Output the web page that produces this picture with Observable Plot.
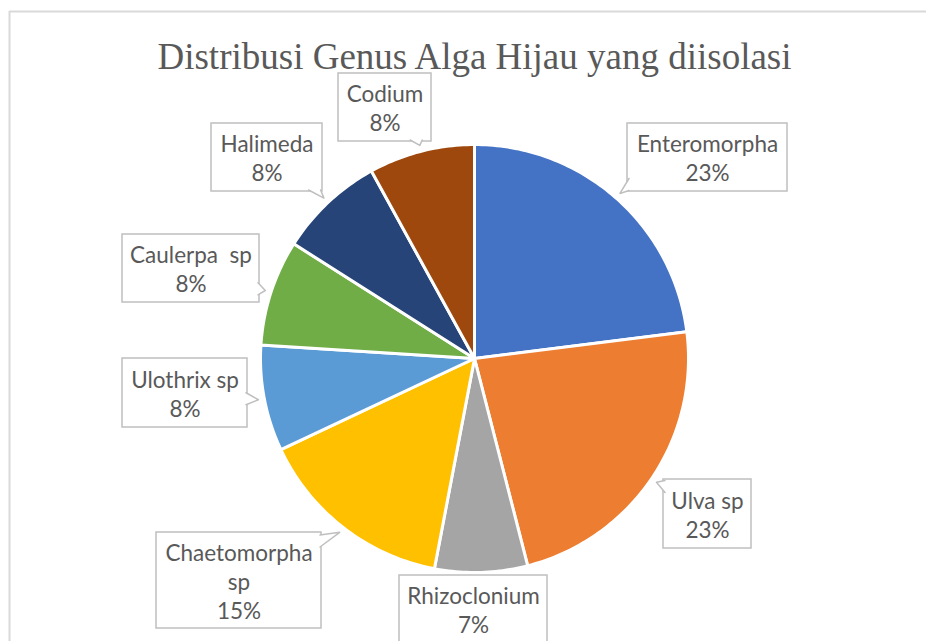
<!DOCTYPE html>
<html><head><meta charset="utf-8">
<script src="https://cdn.jsdelivr.net/npm/d3@7"></script>
<script src="https://cdn.jsdelivr.net/npm/@observablehq/plot@0.6"></script>
<style>body{margin:0;background:#fff} svg text{white-space:pre}</style>
</head><body><div id="chart"></div>
<script>
// ---- data ----
const title = "Distribusi Genus Alga Hijau yang diisolasi";
const genus = ["Enteromorpha","Ulva sp","Rhizoclonium","Chaetomorpha sp","Ulothrix sp","Caulerpa  sp","Halimeda","Codium"];
const percent = [23,23,7,15,8,8,8,8];
const colors = ["#4472C4","#ED7D31","#A5A5A5","#FFC000","#5B9BD5","#70AD47","#264478","#9E480E"];

// ---- layout (label callout boxes, pixel units) ----
const W = 926, H = 641, CX = 474, CY = 358, R = 214;
const boxes = [
  {cx:707, cy:157, w:160, h:68},
  {cx:707, cy:513.5, w:88, h:69},
  {cx:473, cy:609, w:148, h:68},
  {cx:238.5, cy:580, w:165, h:96, wrap:true},
  {cx:184.5, cy:392.5, w:125, h:69},
  {cx:190.5, cy:268, w:137, h:68},
  {cx:266.5, cy:157, w:111, h:68},
  {cx:384.5, cy:107, w:93, h:68}
];

const data = genus.map((g,i)=>({name:g, value:percent[i], color:colors[i]}));
const arcs = d3.pie().sort(null).value(d=>d.value)(data);

const pt = (a, r) => [CX + r*Math.sin(a), CY - r*Math.cos(a)];

// slice polygons
const slicePts = [];
arcs.forEach(a=>{
  const n = Math.max(2, Math.ceil((a.endAngle-a.startAngle)/(Math.PI/180)));
  slicePts.push({name:a.data.name, x:CX, y:CY});
  for(let k=0;k<=n;k++){
    const ang = a.startAngle + (a.endAngle-a.startAngle)*k/n;
    const [x,y] = pt(ang, R);
    slicePts.push({name:a.data.name, x, y});
  }
  slicePts.push({name:a.data.name, x:CX, y:CY});
});

// labels & pointers
const labels = [], rects = [], pointers = [];
arcs.forEach((a,i)=>{
  const b = boxes[i];
  const nm = b.wrap ? a.data.name.replace(" ", "\n") : a.data.name;
  labels.push({x:b.cx, y:b.cy, text: nm + "\n" + a.data.value + "%"});
  const x1=b.cx-b.w/2, x2=b.cx+b.w/2, y1=b.cy-b.h/2, y2=b.cy+b.h/2;
  rects.push({x1,x2,y1,y2});
  const mid = (a.startAngle+a.endAngle)/2;
  const [tx,ty] = pt(mid, R+6);
  if (tx>=x1-2 && tx<=x2+2 && ty>=y1-2 && ty<=y2+2) return; // box touches the pie: no pointer
  const dx = b.cx-tx, dy = b.cy-ty, e = 1e-6;
  const cands = [];
  if (Math.abs(dx)>e){ for (const ex of [x1,x2]){ const t=(ex-tx)/dx; const yy=ty+t*dy; if(t>=-e&&t<=1+e&&yy>=y1-e&&yy<=y2+e) cands.push({t,x:ex,y:yy,side:"v"});}}
  if (Math.abs(dy)>e){ for (const ey of [y1,y2]){ const t=(ey-ty)/dy; const xx=tx+t*dx; if(t>=-e&&t<=1+e&&xx>=x1-e&&xx<=x2+e) cands.push({t,x:xx,y:ey,side:"h"});}}
  if (!cands.length) return;
  cands.sort((p,q)=>p.t-q.t);
  const best = cands[0];
  let b1,b2;
  if (best.side==="h"){
    const xx = Math.min(Math.max(best.x, x1+7), x2-7);
    const inset = best.y===y1 ? 1.5 : -1.5;
    b1=[xx-6,best.y+inset]; b2=[xx+6,best.y+inset];
  } else {
    const yy = Math.min(Math.max(best.y, y1+7), y2-7);
    const inset = best.x===x1 ? 1.5 : -1.5;
    b1=[best.x+inset,yy-6]; b2=[best.x+inset,yy+6];
  }
  pointers.push({id:i,x:b1[0],y:b1[1]},{id:i,x:tx,y:ty},{id:i,x:b2[0],y:b2[1]});
});

const grey = "#BFBFBF", txt = "#595959";
const chart = Plot.plot({
  width: W, height: H, margin: 0,
  x: {domain:[0,W], range:[0,W], axis:null},
  y: {domain:[0,H], range:[0,H], axis:null},
  color: {domain: genus, range: colors},
  style: {background:"#fff"},
  marks: [
    Plot.ruleY([11], {x1:9, x2:W, stroke:"#D9D9D9", strokeWidth:2}),
    Plot.ruleX([9], {y1:11, y2:H, stroke:"#D9D9D9", strokeWidth:2}),
    Plot.line(slicePts, {x:"x", y:"y", z:"name", fill:"name", stroke:"#fff", strokeWidth:3, strokeLinejoin:"round", curve:"linear"}),
    Plot.rect(rects, {x1:"x1", x2:"x2", y1:"y1", y2:"y2", fill:"#fff", stroke:grey, strokeWidth:1.5}),
    Plot.line(pointers, {x:"x", y:"y", z:"id", fill:"#fff", stroke:grey, strokeWidth:1.5, curve:"linear"}),
    Plot.text(labels, {x:"x", y:"y", text:"text", fontFamily:"Lato", fontSize:22.5, lineHeight:1.3, fill:txt, lineAnchor:"middle", textAnchor:"middle"}),
    Plot.text([title], {x:[474], y:[68], text:d=>d, fontFamily:"Liberation Serif", fontSize:37, fill:txt, lineAnchor:"bottom", textAnchor:"middle"})
  ]
});
document.getElementById("chart").appendChild(chart);
</script>
</body></html>
